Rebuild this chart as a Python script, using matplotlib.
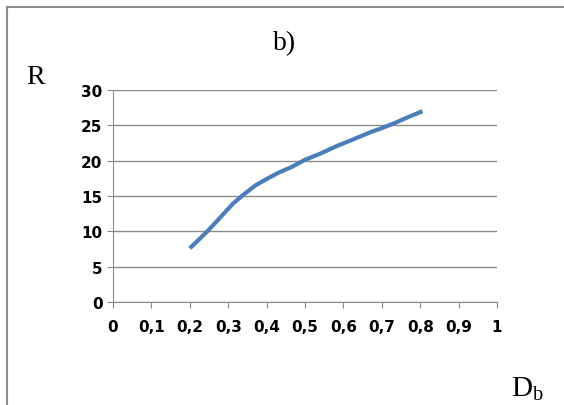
import matplotlib
matplotlib.use('Agg')
import matplotlib.pyplot as plt
from matplotlib.lines import Line2D

# data
db = [0.2, 0.244, 0.28, 0.312, 0.34, 0.371, 0.40, 0.431, 0.465, 0.499, 0.54, 0.584, 0.625, 0.669, 0.70, 0.737, 0.77, 0.806]
r = [7.6, 9.9, 12.0, 13.9, 15.2, 16.5, 17.4, 18.3, 19.1, 20.1, 21.0, 22.1, 23.0, 24.0, 24.6, 25.4, 26.2, 27.0]
xticks = [0, 0.1, 0.2, 0.3, 0.4, 0.5, 0.6, 0.7, 0.8, 0.9, 1.0]
xlabels = ['0', '0,1', '0,2', '0,3', '0,4', '0,5', '0,6', '0,7', '0,8', '0,9', '1']
yticks = [0, 5, 10, 15, 20, 25, 30]

fig = plt.figure(figsize=(5.64, 4.06), dpi=100)
W, H = 564, 406
ax = fig.add_axes([113 / W, 1 - 303 / H, (497 - 113) / W, (303 - 91) / H])

ax.plot(db, r, color='#4a7ebb', lw=3, solid_capstyle='butt')
ax.set_xlim(0, 1)
ax.set_ylim(0, 30)
ax.set_xticks(xticks)
ax.set_xticklabels(xlabels)
ax.set_yticks(yticks)
ax.grid(axis='y', color='#8c8c8c', lw=1)
ax.set_axisbelow(True)
for s in ['top', 'right']:
    ax.spines[s].set_visible(False)
for s in ['left', 'bottom']:
    ax.spines[s].set_color('#8c8c8c')
ax.tick_params(colors='#8c8c8c', labelcolor='black', length=4, labelsize=11)
ax.tick_params(axis='x', pad=8)
for lab in ax.get_xticklabels() + ax.get_yticklabels():
    lab.set_fontweight('bold')

# frame around the figure (top and left visible)
fig.add_artist(Line2D([7 / W, 7 / W], [0, 1 - 8 / H], color='#8c8c8c', lw=1.5, transform=fig.transFigure))
fig.add_artist(Line2D([7 / W, 1], [1 - 8 / H, 1 - 8 / H], color='#8c8c8c', lw=1.5, transform=fig.transFigure))

fig.text(285 / W, 1 - 44 / H, 'b)', ha='center', va='center', fontsize=20, family='Liberation Serif')
fig.text(36 / W, 1 - 77 / H, 'R', ha='center', va='center', fontsize=20, family='Liberation Serif')
fig.text(527 / W, 1 - 389 / H, r'D$_\mathregular{b}$', ha='center', va='center', fontsize=21, family='Liberation Serif')

fig.savefig('out.png', dpi=100)
